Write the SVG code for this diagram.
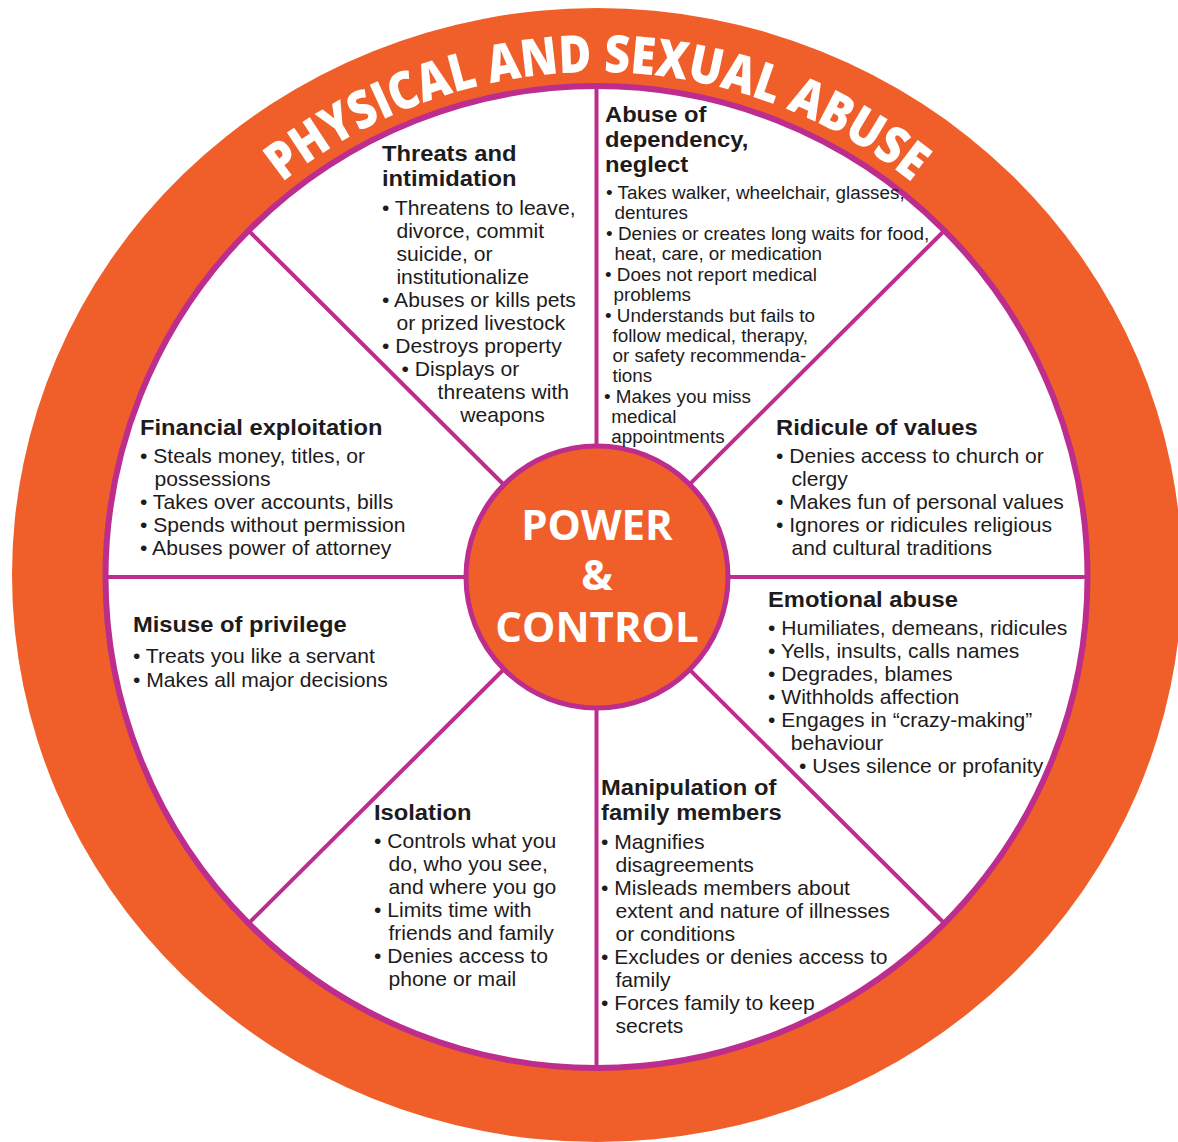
<svg xmlns="http://www.w3.org/2000/svg" width="1178" height="1142" viewBox="0 0 1178 1142">
<style>
.h{font-family:"Liberation Sans",Arial,sans-serif;font-weight:700;font-size:22.3px;fill:#1d1b1c}
.b{font-family:"Liberation Sans",Arial,sans-serif;font-weight:400;font-size:20.5px;fill:#1d1b1c}
.s{font-family:"Liberation Sans",Arial,sans-serif;font-weight:400;font-size:17.8px;fill:#1d1b1c}
.c{font-family:"Open Sans","Liberation Sans",sans-serif;font-weight:700;font-size:42px;fill:#ffffff;text-anchor:middle}
.arc{font-family:"Open Sans","Liberation Sans",sans-serif;font-weight:800;font-size:52px;fill:#ffffff}
.spoke{stroke:#bd2d8e;stroke-width:4;fill:none}
</style>
<defs>
<path id="arcpath" d="M 159.7 324.5 A 505 505 0 0 1 1034.3 324.5"/>
</defs>
<rect width="1178" height="1142" fill="#ffffff"/>
<g id="ring">
<ellipse cx="597" cy="575" rx="585" ry="567" fill="#f05f2a"/>
<circle cx="596.5" cy="577" r="491" fill="#ffffff" stroke="#bd2d8e" stroke-width="6"/>
<text class="arc"><textPath href="#arcpath" startOffset="50%" text-anchor="middle" textLength="680" lengthAdjust="spacingAndGlyphs">PHYSICAL AND SEXUAL ABUSE</textPath></text>
</g>
<g id="spokes">
<line class="spoke" x1="596.5" y1="577" x2="596.5" y2="88"/>
<line class="spoke" x1="596.5" y1="577" x2="596.5" y2="1066"/>
<line class="spoke" x1="596.5" y1="577" x2="108" y2="577"/>
<line class="spoke" x1="596.5" y1="577" x2="1085" y2="577"/>
<line class="spoke" x1="596.5" y1="577" x2="250" y2="232"/>
<line class="spoke" x1="596.5" y1="577" x2="943" y2="232"/>
<line class="spoke" x1="596.5" y1="577" x2="250" y2="922"/>
<line class="spoke" x1="596.5" y1="577" x2="943" y2="922"/>
</g>
<g id="center">
<circle cx="597" cy="577" r="131" fill="#f05f2a" stroke="#bd2d8e" stroke-width="5"/>
<text class="c" x="597" y="540">POWER</text>
<text class="c" x="597" y="590">&amp;</text>
<text class="c" x="597" y="642">CONTROL</text>
</g>
<g id="threats">
<g transform="matrix(1.065 0 0 1 -24.83 0)">
<text class="h" x="382" y="161">Threats and</text>
<text class="h" x="382" y="186">intimidation</text>
</g>
<g transform="matrix(1.03 0 0 1 -11.46 0)">
<text class="b" x="382" y="215">• Threatens to leave,</text>
<text class="b" x="396" y="238">divorce, commit</text>
<text class="b" x="396" y="261">suicide, or</text>
<text class="b" x="396" y="284">institutionalize</text>
<text class="b" x="382" y="307">• Abuses or kills pets</text>
<text class="b" x="396" y="330">or prized livestock</text>
<text class="b" x="382" y="353">• Destroys property</text>
<text class="b" x="401" y="376">• Displays or</text>
<text class="b" x="436" y="399">threatens with</text>
<text class="b" x="458" y="422">weapons</text>
</g>
</g>
<g id="dependency">
<g transform="matrix(1.065 0 0 1 -39.33 0)">
<text class="h" x="605" y="122">Abuse of</text>
<text class="h" x="605" y="147">dependency,</text>
<text class="h" x="605" y="172">neglect</text>
</g>
<g transform="matrix(1.06 0 0 1 -36.3 0)">
<text class="s" x="606" y="199">• Takes walker, wheelchair, glasses,</text>
<text class="s" x="614" y="219">dentures</text>
<text class="s" x="606" y="240">• Denies or creates long waits for food,</text>
<text class="s" x="614" y="260">heat, care, or medication</text>
<text class="s" x="605" y="281">• Does not report medical</text>
<text class="s" x="613" y="301">problems</text>
<text class="s" x="605" y="322">• Understands but fails to</text>
<text class="s" x="612" y="342">follow medical, therapy,</text>
<text class="s" x="612" y="362">or safety recommenda-</text>
<text class="s" x="612" y="382">tions</text>
<text class="s" x="604" y="403">• Makes you miss</text>
<text class="s" x="611" y="423">medical</text>
<text class="s" x="611" y="443">appointments</text>
</g>
</g>
<g id="financial">
<g transform="matrix(1.065 0 0 1 -9.1 0)">
<text class="h" x="140" y="435">Financial exploitation</text>
</g>
<g transform="matrix(1.03 0 0 1 -4.2 0)">
<text class="b" x="140" y="463">• Steals money, titles, or</text>
<text class="b" x="154" y="486">possessions</text>
<text class="b" x="140" y="509">• Takes over accounts, bills</text>
<text class="b" x="140" y="532">• Spends without permission</text>
<text class="b" x="140" y="555">• Abuses power of attorney</text>
</g>
</g>
<g id="ridicule">
<g transform="matrix(1.065 0 0 1 -50.44 0)">
<text class="h" x="776" y="435">Ridicule of values</text>
</g>
<g transform="matrix(1.03 0 0 1 -23.28 0)">
<text class="b" x="776" y="463">• Denies access to church or</text>
<text class="b" x="791" y="486">clergy</text>
<text class="b" x="776" y="509">• Makes fun of personal values</text>
<text class="b" x="776" y="532">• Ignores or ridicules religious</text>
<text class="b" x="791" y="555">and cultural traditions</text>
</g>
</g>
<g id="privilege">
<g transform="matrix(1.065 0 0 1 -8.645 0)">
<text class="h" x="133" y="632">Misuse of privilege</text>
</g>
<g transform="matrix(1.03 0 0 1 -3.99 0)">
<text class="b" x="133" y="663">• Treats you like a servant</text>
<text class="b" x="133" y="687">• Makes all major decisions</text>
</g>
</g>
<g id="emotional">
<g transform="matrix(1.065 0 0 1 -49.92 0)">
<text class="h" x="768" y="607">Emotional abuse</text>
</g>
<g transform="matrix(1.03 0 0 1 -23.04 0)">
<text class="b" x="768" y="635">• Humiliates, demeans, ridicules</text>
<text class="b" x="768" y="658">• Yells, insults, calls names</text>
<text class="b" x="768" y="681">• Degrades, blames</text>
<text class="b" x="768" y="704">• Withholds affection</text>
<text class="b" x="768" y="727">• Engages in “crazy-making”</text>
<text class="b" x="790" y="750">behaviour</text>
<text class="b" x="798" y="773">• Uses silence or profanity</text>
</g>
</g>
<g id="isolation">
<g transform="matrix(1.065 0 0 1 -24.31 0)">
<text class="h" x="374" y="820">Isolation</text>
</g>
<g transform="matrix(1.03 0 0 1 -11.22 0)">
<text class="b" x="374" y="848">• Controls what you</text>
<text class="b" x="388" y="871">do, who you see,</text>
<text class="b" x="388" y="894">and where you go</text>
<text class="b" x="374" y="917">• Limits time with</text>
<text class="b" x="388" y="940">friends and family</text>
<text class="b" x="374" y="963">• Denies access to</text>
<text class="b" x="388" y="986">phone or mail</text>
</g>
</g>
<g id="manipulation">
<g transform="matrix(1.065 0 0 1 -39.07 0)">
<text class="h" x="601" y="795">Manipulation of</text>
<text class="h" x="601" y="820">family members</text>
</g>
<g transform="matrix(1.03 0 0 1 -18.03 0)">
<text class="b" x="601" y="849">• Magnifies</text>
<text class="b" x="615" y="872">disagreements</text>
<text class="b" x="601" y="895">• Misleads members about</text>
<text class="b" x="615" y="918">extent and nature of illnesses</text>
<text class="b" x="615" y="941">or conditions</text>
<text class="b" x="601" y="964">• Excludes or denies access to</text>
<text class="b" x="615" y="987">family</text>
<text class="b" x="601" y="1010">• Forces family to keep</text>
<text class="b" x="615" y="1033">secrets</text>
</g>
</g>
</svg>
